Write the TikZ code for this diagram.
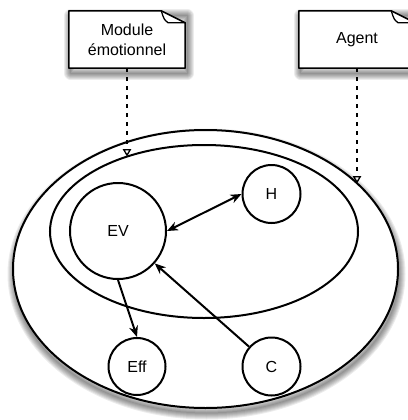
\documentclass[tikz,border=0pt]{standalone}
\usepackage{fontspec}
\setmainfont{Liberation Sans}
\usetikzlibrary{shapes.geometric,arrows.meta,backgrounds}
\begin{document}
\begin{tikzpicture}[x=1pt,y=-1pt,
  >={Stealth[length=11pt,width=9pt,inset=3.5pt]},
  lbl/.style={font=\fontsize{16}{20}\selectfont, align=center},
  ring/.style={draw, line width=2pt, circle, inner sep=0pt, lbl},
  oval/.style={draw, line width=2pt, ellipse, inner sep=0pt},
  note/.style={lbl, minimum width=116pt, minimum height=57pt, inner sep=0pt},
  link/.style={line width=2pt},
  trace/.style={line width=2pt, dash pattern=on 3.5pt off 5.5pt,
      -{Triangle[open,length=7.5pt,width=8.5pt,line width=1.3pt]}},
  haze/.style={black, opacity=0.075, line join=round}
]
\useasboundingbox (0,0) rectangle (407,420);
\clip (0,0) rectangle (407,420);

% note boxes: soft shadow, dog-eared outline, label
\node[note] (mod) at (127,39.5) {Module\\émotionnel};
\node[note] (agt) at (357,39.5) {Agent};
\begin{scope}[on background layer]
  \foreach \n in {mod,agt}{
    \foreach \w in {1,3,...,13}
      \draw[haze, line width=\w pt] ([shift={(2,5)}]\n.south west)
        rectangle ([shift={(2,5)}]\n.north east);
    \filldraw[fill=white, line width=1.5pt, line join=round]
      (\n.south west) -- (\n.north west)
      -- ([xshift=-24pt]\n.north east) -- ([yshift=-12pt]\n.north east)
      -- (\n.south east) -- cycle;
    \draw[line width=1.3pt, line join=round] ([xshift=-24pt]\n.north east)
      .. controls ([xshift=-21pt,yshift=-9pt]\n.north east) ..
      ([xshift=-17pt,yshift=-12pt]\n.north east) -- ([yshift=-12pt]\n.north east);
  }
\end{scope}

% soft shadow under the agent region
\foreach \w in {1,3,...,13}
  \draw[haze, line width=\w pt] (206.5,274) ellipse [x radius=192.5, y radius=139];

% agent and emotional module regions
\node[oval, fill=white, minimum width=385pt, minimum height=278pt]
  (agentzone) at (205.5,269) {};
\node[oval, minimum width=308pt, minimum height=173pt]
  (emozone) at (204,231.5) {};

% components
\node[ring, minimum size=96pt] (ev) at (118,231) {EV};
\node[ring, minimum size=58pt] (h) at (271.5,194) {H};
\node[ring, minimum size=57pt] (eff) at (137,366.5) {Eff};
\node[ring, minimum size=58pt] (c) at (271.5,366.5) {C};

% relations
\draw[link, <->] (ev.east) -- (h.west);
\draw[link, ->] (ev.south) -- (eff.north);
\draw[link, ->] (c) -- (ev);

% note anchors
\coordinate (modtip) at (127,156.5);
\coordinate (agttip) at (357,183.5);
\draw[trace] (mod.south) -- (modtip);
\draw[trace] (agt.south) -- (agttip);
\end{tikzpicture}
\end{document}
